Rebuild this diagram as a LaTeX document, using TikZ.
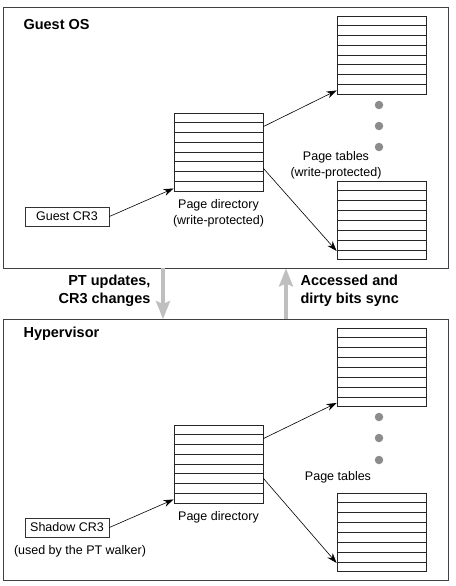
\documentclass[tikz,border=0pt]{standalone}
\usepackage{fontspec}
\setmainfont{Liberation Sans}
\usetikzlibrary{positioning,arrows.meta,calc}
\tikzstyle{region}=[
draw=black!75,
line width=0.9pt,
minimum width=445pt,
minimum height=261pt,
inner sep=0pt
]
\tikzstyle{table}=[
draw=black!85,
line width=0.9pt,
minimum width=89pt,
minimum height=78pt,
inner sep=0pt
]
\tikzstyle{rowline} = [draw=black!85,line width=0.9pt]
\tikzstyle{regbox}=[
draw=black!80,
line width=0.8pt,
minimum width=84pt,
minimum height=19pt,
inner sep=0pt,
font=\fontsize{12.5}{16}\selectfont
]
\tikzstyle{caption} = [align=center,font=\fontsize{12.5}{16}\selectfont]
\tikzstyle{title} = [align=left,font=\fontsize{14.5}{18}\selectfont\bfseries]
\tikzstyle{dot} = [circle,fill=black!45,minimum size=8.5pt,inner sep=0pt]
\tikzstyle{ptr} = [draw,line width=0.6pt,-{Stealth[length=10pt,width=7pt]}]
\tikzstyle{sync} = [draw=black!25,line width=3.5pt,-{Stealth[length=18pt,width=14pt,inset=3pt]}]

\begin{document}
\begin{tikzpicture}[x=1pt,y=-1pt]
			\useasboundingbox (0,0) rectangle (455,586);
			
			% the two layers
			\node[region] (guest) at (225.5,137.5) {};
			\node[region] (hyper) at (225.5,450) {};
			\node[title,anchor=west] (guestlbl) at (20,25) {Guest OS};
			\node[title,anchor=west] (hyperlbl) at (20,334) {Hypervisor};
			
			% guest side
			\node[table] (gpd)  at (218.5,152) {};
			\node[table] (gpt1) at (381.5,55) {};
			\node[table] (gpt2) at (381.5,220.5) {};
			\node[regbox] (gcr3) at (67,216.5) {Guest CR3};
			\node[caption,below=4pt of gpd] (gpdlbl) {Page directory\\(write-protected)};
			\node[caption] (gptlbl) at (336,165) {Page tables\\(write-protected)};
			
			% hypervisor side
			\node[table] (hpd)  at (218.5,464) {};
			\node[table] (hpt1) at (381.5,367.5) {};
			\node[table] (hpt2) at (381.5,532.5) {};
			\node[regbox] (scr3) at (67,527.5) {Shadow CR3};
			\node[caption,below=4pt of hpd] (hpdlbl) {Page directory};
			\node[caption] (hptlbl) at (338,477) {Page tables};
			\node[caption] (walker) at (80,551) {(used by the PT walker)};
			
			% rows of the tables
			\foreach \t in {gpd,gpt1,gpt2,hpd,hpt1,hpt2}
			\foreach \i in {1,...,7}
			\path[rowline] ($(\t.north west)!\i/8!(\t.south west)$) -- ($(\t.north east)!\i/8!(\t.south east)$);
			
			\foreach \y in {105,126,147,417,438,460}
			\node[dot] at (379,\y) {};
			
			% pointers
			\path[ptr] (gcr3.east) -- ([yshift=3pt]gpd.south west);
			\path[ptr] ([yshift=-14pt]gpd.north east) -- ([yshift=4pt]gpt1.south west);
			\path[ptr] ([yshift=23pt]gpd.south east) -- ([yshift=9pt]gpt2.south west);
			\path[ptr] (scr3.east) -- ([yshift=4pt]hpd.south west);
			\path[ptr] ([yshift=-14pt]hpd.north east) -- ([yshift=4pt]hpt1.south west);
			\path[ptr] ([yshift=25pt]hpd.south east) -- ([yshift=9pt]hpt2.south west);
			
			% traffic between the layers
			\path[sync] ([xshift=-62.5pt]guest.south) -- ([xshift=-62.5pt]hyper.north);
			\path[sync] ([xshift=60.5pt]hyper.north) -- ([xshift=60.5pt]guest.south);
			\node[title,align=right,anchor=east] (downlbl) at (154,291) {PT updates,\\CR3 changes};
			\node[title,anchor=west] (uplbl) at (297,291) {Accessed and\\dirty bits sync};
			
			\end{tikzpicture}
\end{document}
